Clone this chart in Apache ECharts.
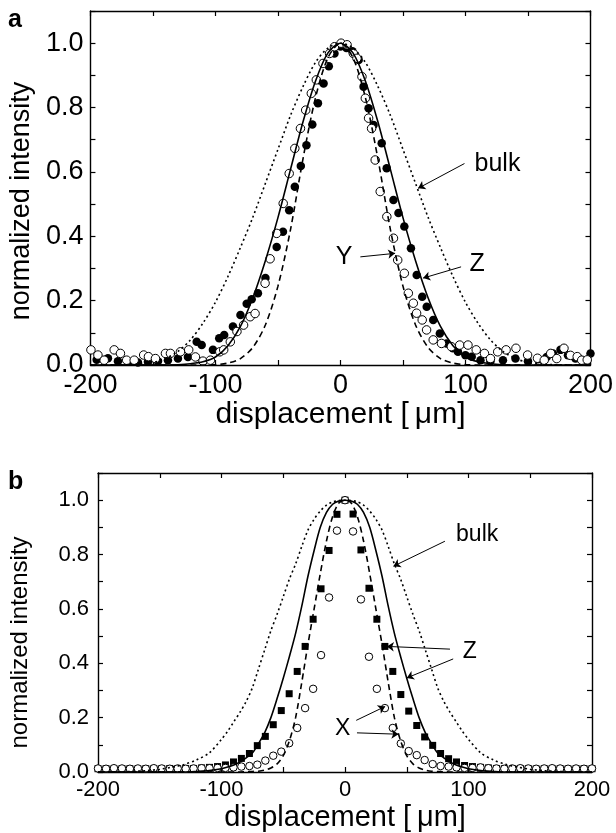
<!DOCTYPE html>
<html>
<head>
<meta charset="utf-8">
<script src="https://cdn.jsdelivr.net/npm/echarts@6/dist/echarts.min.js"></script>
<style>
  html, body { margin: 0; padding: 0; background: #fff; }
  #chart { width: 616px; height: 833px; }
</style>
</head>
<body>
<div id="chart"></div>
<script>
// ===== panel a: fitted curves, sampled every 10 um =====
const aFitX = [-200,-190,-180,-170,-160,-150,-140,-130,-120,-110,-100,-90,-80,-70,-60,-50,-40,-30,-20,-10,
  0,10,20,30,40,50,60,70,80,90,100,110,120,130,140,150,160,170,180,190,200]
const aBulk = [0,0,0,0.001,0.003,0.008,0.02,0.042,0.078,0.13,0.195,0.275,0.365,0.46,0.565,0.67,0.775,0.865,0.94,0.985,
  1,0.985,0.94,0.865,0.775,0.67,0.565,0.46,0.365,0.275,0.195,0.13,0.078,0.042,0.02,0.008,0.003,0.001,0,0,0]
const aZfit = [0,0,0,0,0,0,0,0.001,0.004,0.01,0.025,0.06,0.12,0.21,0.325,0.458,0.607,0.755,0.882,0.97,
  1,0.97,0.882,0.755,0.607,0.458,0.325,0.21,0.12,0.06,0.025,0.01,0.004,0.001,0,0,0,0,0,0,0]
const aYfit = [0,0,0,0,0,0,0,0,0,0,0.001,0.006,0.02,0.055,0.125,0.245,0.42,0.64,0.83,0.955,
  1,0.955,0.83,0.64,0.42,0.245,0.125,0.055,0.02,0.006,0.001,0,0,0,0,0,0,0,0,0,0]

// panel a: measured Z profile (filled circles)
const aZdotX = [-195,-186,-178,-170,-162,-154,-146,-138,-130,-122,-115,-111,-102,-97,-93,-86,-80,-75,-71,-66,-60,
  -51,-46,-41,-36.5,-31.7,-27.2,-22.5,-18,-13.5,-9.3,-4.8,0,4.8,9.6,14.6,18.5,22.5,26.5,33,37,42.4,46.4,51.1,56.4,
  61,65.4,69,74.2,79.5,84.8,90,94,100,105,112,120,130,140,150,158,165,170,176,182,188,194,200]
const aZdotY = [0.016,0.021,0.012,0.01,0.008,0.01,0.012,0.015,0.02,0.025,0.072,0.062,0.047,0.083,0.093,0.12,0.155,0.19,0.204,0.223,0.27,
  0.367,0.414,0.481,0.554,0.618,0.683,0.747,0.813,0.875,0.928,0.968,0.99,0.985,0.975,0.948,0.865,0.798,0.746,0.689,0.611,0.513,0.472,0.43,0.363,
  0.28,0.212,0.181,0.14,0.098,0.067,0.052,0.041,0.03,0.026,0.015,0.012,0.015,0.02,0.012,0.018,0.025,0.036,0.047,0.03,0.02,0.015,0.036]

// panel a: measured Y profile (open circles)
const aYdotX = [-199.6,-194,-189,-181,-176,-171,-165,-157.4,-153.6,-148,-140,-136,-128,-121.4,-116,-110,-104,-96.5,-93.4,-88.1,
  -82.8,-77.5,-72.2,-68.3,-60.3,-56.3,-51,-45.8,-41,-36.5,-32,-27.8,-23.3,-19.3,-14,-8.7,-4.8,0.5,5.3,10.3,13.2,17.2,19.9,22.5,
  24.9,27.8,31.8,37.1,42.4,45.8,51.1,54.3,58.3,60.9,65.4,68.9,74.2,80.8,88.7,95.4,102,108.6,115.2,120,125.8,132.5,140.4,
  149.7,157.6,163,168.2,173,178.8,184,189.4,193,197.4]
const aYdotY = [0.047,0.031,0.015,0.047,0.036,0.015,0.015,0.031,0.026,0.02,0.036,0.036,0.041,0.047,0.025,0.012,0.015,0.041,0.047,0.072,
  0.104,0.124,0.15,0.16,0.254,0.33,0.409,0.502,0.595,0.673,0.735,0.792,0.844,0.886,0.937,0.968,0.989,1,0.995,0.968,0.953,0.896,0.829,0.767,
  0.735,0.637,0.539,0.461,0.394,0.326,0.285,0.223,0.192,0.161,0.14,0.109,0.078,0.067,0.057,0.062,0.062,0.047,0.036,0.02,0.041,0.047,0.052,
  0.031,0.021,0.015,0.036,0.02,0.052,0.03,0.026,0.015,0.016]

// ===== panel b: fitted curves =====
const bFitX = [-200,-180,-160,-150,-140,-130,-120,-110,-100,-95,-90,-85,-80,-75,-70,-65,-60,-55,-50,-45,-40,-35,-30,-25,-20,-15,-10,-5,
  0,5,10,15,20,25,30,35,40,45,50,55,60,65,70,75,80,85,90,95,100,110,120,130,140,150,160,180,200]
const bBulk = [0,0.001,0.005,0.01,0.018,0.028,0.045,0.07,0.12,0.15,0.185,0.22,0.26,0.31,0.38,0.45,0.52,0.58,0.645,0.71,0.765,0.83,0.89,0.93,0.96,0.982,0.994,0.999,
  1,0.999,0.994,0.982,0.96,0.93,0.89,0.83,0.765,0.71,0.645,0.58,0.52,0.45,0.38,0.31,0.26,0.22,0.185,0.15,0.12,0.07,0.045,0.028,0.018,0.01,0.005,0.001,0]
const bZfit = [0,0,0,0,0,0,0.002,0.005,0.012,0.018,0.026,0.037,0.052,0.07,0.105,0.145,0.2,0.27,0.345,0.425,0.51,0.61,0.72,0.815,0.9,0.955,0.985,0.997,
  1,0.997,0.985,0.955,0.9,0.815,0.72,0.61,0.51,0.425,0.345,0.27,0.2,0.145,0.105,0.07,0.052,0.037,0.026,0.018,0.012,0.005,0.002,0,0,0,0,0,0]
const bXfit = [0,0,0,0,0,0,0,0,0,0,0,0,0.001,0.002,0.003,0.007,0.015,0.03,0.06,0.115,0.2,0.33,0.47,0.6,0.73,0.85,0.94,0.99,
  1,0.99,0.94,0.85,0.73,0.6,0.47,0.33,0.2,0.115,0.06,0.03,0.015,0.007,0.003,0.002,0.001,0,0,0,0,0,0,0,0,0,0,0,0]

// panel b: measured points share one scan grid
const bDotX = [-200,-193.5,-187.1,-180.6,-174.2,-167.7,-161.3,-154.8,-148.4,-141.9,-135.5,-129,-122.6,-116.1,-109.7,-103.2,
  -96.8,-90.3,-83.9,-77.4,-71,-64.5,-58.1,-51.6,-45.2,-38.7,-32.3,-25.8,-19.4,-12.9,-6.5,0,6.5,12.9,19.4,25.8,32.3,38.7,
  45.2,51.6,58.1,64.5,71,77.4,83.9,90.3,96.8,103.2,109.7,116.1,122.6,129,135.5,141.9,148.4,154.8,161.3,167.7,174.2,
  180.6,187.1,193.5,200]
const bZsq = [0.012,0.012,0.011,0.012,0.012,0.011,0.012,0.012,0.012,0.013,0.012,0.013,0.013,0.015,0.017,0.02,
  0.026,0.037,0.05,0.068,0.097,0.131,0.174,0.226,0.288,0.37,0.462,0.562,0.674,0.815,0.948,1,0.949,0.817,0.676,0.562,0.462,0.37,
  0.285,0.224,0.171,0.129,0.098,0.068,0.049,0.037,0.024,0.02,0.017,0.015,0.013,0.012,0.012,0.013,0.012,0.011,0.012,0.012,0.012,
  0.011,0.012,0.012,0.012]
const bXcirc = [0.013,0.012,0.014,0.013,0.012,0.013,0.012,0.014,0.013,0.012,0.013,0.012,0.013,0.014,0.014,0.015,
  0.015,0.017,0.02,0.022,0.027,0.042,0.06,0.075,0.106,0.162,0.235,0.306,0.43,0.642,0.888,1,0.885,0.635,0.424,0.306,0.235,0.162,
  0.105,0.077,0.062,0.044,0.029,0.022,0.02,0.017,0.015,0.015,0.017,0.014,0.013,0.012,0.013,0.014,0.013,0.012,0.013,0.014,0.013,
  0.012,0.013,0.012,0.013]

const FONT = 'Liberation Sans, Arial, Helvetica, sans-serif'
const INK = '#000'

const zip = (xs, ys) => xs.map((x, i) => [x, ys[i]])

// 四边都画刻度：底/左带标签，顶/右只画刻度
function xAxisOf(grid, pos, o) {
  const main = pos === 'bottom'
  return {
    type: 'value', gridIndex: grid, position: pos, min: -200, max: 200, interval: 50,
    axisLine: { onZero: false, lineStyle: { color: INK, width: 1.4 } },
    axisTick: { inside: true, length: 5, lineStyle: { color: INK, width: 1.2 } },
    splitLine: { show: false },
    axisLabel: {
      show: main, margin: o.labelMargin, fontSize: o.tickFs, fontFamily: FONT, color: INK,
      formatter: (v) => (Math.round(v) % 100 === 0 ? String(v) : ''),
    },
    name: main ? 'displacement [\u2009\u03bcm]' : '',
    nameLocation: 'middle', nameGap: o.nameGap,
    nameTextStyle: { fontSize: o.nameFs, fontFamily: FONT, color: INK },
  }
}

function yAxisOf(grid, pos, o) {
  const main = pos === 'left'
  return {
    type: 'value', gridIndex: grid, position: pos, min: 0, max: 1.1, interval: 0.1,
    axisLine: { onZero: false, lineStyle: { color: INK, width: 1.4 } },
    axisTick: { inside: true, length: 5, lineStyle: { color: INK, width: 1.2 } },
    splitLine: { show: false },
    axisLabel: {
      show: main, margin: o.labelMargin, fontSize: o.tickFs, fontFamily: FONT, color: INK,
      formatter: (v) => {
        const t = Math.round(v * 10)
        return t % 2 === 0 && t <= 10 ? (t / 10).toFixed(1) : ''
      },
    },
    name: main ? 'normalized intensity' : '',
    nameLocation: 'middle', nameGap: o.nameGap,
    // 右侧加 padding，让竖排标题整体往下挪一点
    nameTextStyle: { fontSize: o.nameFs, fontFamily: FONT, color: INK, padding: [0, o.namePush, 0, 0] },
  }
}

function curve(ax, data, type) {
  return {
    type: 'line', xAxisIndex: ax, yAxisIndex: ax, data, showSymbol: false, smooth: 0.3,
    silent: true, z: 5,
    lineStyle: { color: INK, width: 1.6, type },
  }
}

function dots(ax, data, symbol, size, filled) {
  return {
    type: 'scatter', xAxisIndex: ax, yAxisIndex: ax, data, symbol, symbolSize: size, silent: true, z: 3,
    itemStyle: filled
      ? { color: INK, opacity: 1 }
      : { color: '#fff', borderColor: INK, borderWidth: 1, opacity: 1 },
  }
}

// 文字标注 + 箭头（数据坐标）
function notes(ax, items, arrows, fs) {
  return {
    type: 'scatter', xAxisIndex: ax, yAxisIndex: ax, symbolSize: 0, silent: true, z: 6,
    itemStyle: { opacity: 1 },
    data: items.map((d) => ({ name: d[0], value: [d[1], d[2]] })),
    label: { show: true, position: 'inside', formatter: '{b}', fontSize: fs, fontFamily: FONT, color: INK, opacity: 1 },
    markLine: {
      silent: true, animation: false, symbol: ['none', 'arrow'], symbolSize: 7,
      label: { show: false },
      lineStyle: { color: INK, width: 1, type: 'solid', opacity: 1 },
      data: arrows.map((a) => [{ coord: [a[0], a[1]] }, { coord: [a[2], a[3]] }]),
    },
  }
}

const aOpt = { tickFs: 27, nameFs: 30, labelMargin: 7, nameGap: 35 }
const aOptY = { tickFs: 27, nameFs: 27, labelMargin: 7, nameGap: 46, namePush: 26 }
const bOpt = { tickFs: 22, nameFs: 29, labelMargin: 7, nameGap: 31 }
const bOptY = { tickFs: 22, nameFs: 24, labelMargin: 9, nameGap: 66, namePush: 40 }

const chart = echarts.init(document.getElementById('chart'), null, { renderer: 'canvas' })
chart.setOption({
  animation: false,
  backgroundColor: '#fff',
  grid: [
    { left: 89, top: 11, width: 504, height: 354 },
    { left: 96, top: 473, width: 496, height: 301 },
  ],
  xAxis: [
    xAxisOf(0, 'bottom', aOpt), xAxisOf(0, 'top', aOpt),
    xAxisOf(1, 'bottom', bOpt), xAxisOf(1, 'top', bOpt),
  ],
  yAxis: [
    yAxisOf(0, 'left', aOptY), yAxisOf(0, 'right', aOptY),
    yAxisOf(1, 'left', bOptY), yAxisOf(1, 'right', bOptY),
  ],
  graphic: [
    { type: 'text', left: 8, top: 8, style: { text: 'a', font: 'bold 25px ' + FONT, fill: INK } },
    { type: 'text', left: 8, top: 470, style: { text: 'b', font: 'bold 25px ' + FONT, fill: INK } },
  ],
  series: [
    // panel a
    dots(0, zip(aZdotX, aZdotY), 'circle', 8.5, true),
    dots(0, zip(aYdotX, aYdotY), 'circle', 8.5, false),
    curve(0, zip(aFitX, aBulk), [2, 3]),
    curve(0, zip(aFitX, aZfit), 'solid'),
    curve(0, zip(aFitX, aYfit), [6, 4]),
    notes(0,
      [['bulk', 125.6, 0.624], ['Z', 109.4, 0.314], ['Y', 3, 0.335]],
      [[99.2, 0.626, 62.1, 0.549], [96.5, 0.305, 66.1, 0.27], [15.9, 0.336, 43.7, 0.347]],
      25),
    // panel b
    dots(2, zip(bDotX, bZsq), 'rect', 7, true),
    dots(2, zip(bDotX, bXcirc), 'circle', 7.5, false),
    curve(2, zip(bFitX, bBulk), [2, 3]),
    curve(2, zip(bFitX, bZfit), 'solid'),
    curve(2, zip(bFitX, bXfit), [6, 4]),
    notes(2,
      [['bulk', 107, 0.873], ['Z', 101, 0.443], ['X', -1.9, 0.16]],
      [[80.9, 0.849, 39.2, 0.757], [85, 0.452, 33.9, 0.462], [87.6, 0.416, 50, 0.346],
        [9.1, 0.19, 32.5, 0.241], [9.7, 0.144, 43.3, 0.139]],
      23),
  ],
})
</script>
</body>
</html>
